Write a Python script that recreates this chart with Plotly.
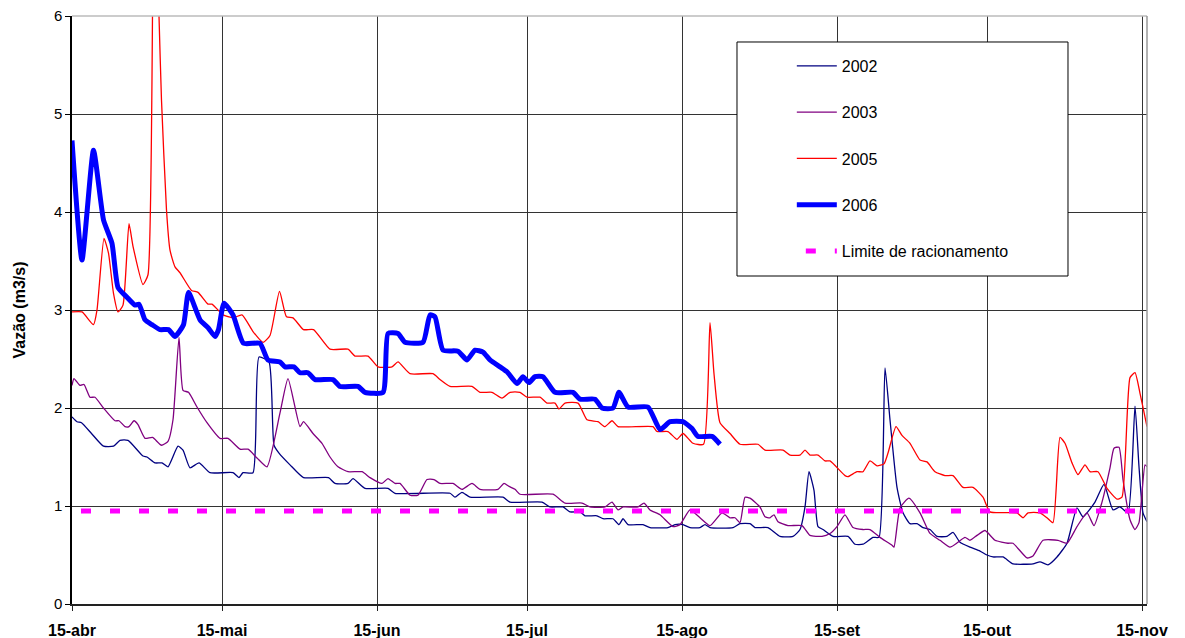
import plotly.graph_objects as go

# x positions are days counted from 15-abr
tick_days = [0, 30, 61, 91, 122, 153, 183, 214]
tick_labels = ["15-abr", "15-mai", "15-jun", "15-jul", "15-ago", "15-set", "15-out", "15-nov"]

days_2002 = [0, 1, 1.9, 3.9, 6.3, 8.3, 9.6, 11.2, 14.2, 15, 16.6, 18, 19.2, 21.2, 22.2, 23.6, 25.4, 27.6,
             32.2, 33.4, 34.2, 36.2, 37.4, 39.4, 40.4, 41.4, 43.6, 46.3, 51.3, 52.6, 55.2, 56.2, 58.6, 63.2,
             64.6, 75.6, 76.6, 78, 79.6, 86.2, 87.6, 94, 95.6, 98.2, 99.6, 101.6, 102.6, 105, 106.2, 108.2,
             109.4, 110.2, 111.2, 114.2, 115.6, 119.2, 120.6, 122.2, 123.6, 125.6, 126.6, 127.6, 132.2,
             133.6, 135.6, 136.6, 139.2, 141.6, 144.2, 145.6, 146.6, 147.4, 148.4, 149.2, 150.2, 152.2,
             155.2, 156.6, 158.2, 160.2, 161.4, 162.6, 163.6, 165, 166.2, 167.6, 169, 170.2, 171.6, 173,
             175, 176.2, 177.6, 179.6, 181.6, 183, 184.2, 186.2, 188.2, 192.2, 193.6, 195.2, 197, 199,
             201, 202.2, 204.6, 206.4, 208.2, 209.6, 211.2, 212.6, 213.4, 214.2, 215]
flow_2002 = [1.91, 1.86, 1.85, 1.74, 1.61, 1.61, 1.67, 1.67, 1.51, 1.50, 1.44, 1.44, 1.40, 1.61, 1.57, 1.39,
             1.44, 1.34, 1.34, 1.29, 1.34, 1.34, 2.52, 2.47, 1.62, 1.54, 1.42, 1.29, 1.29, 1.23, 1.23, 1.28,
             1.18, 1.18, 1.13, 1.13, 1.09, 1.14, 1.09, 1.09, 1.04, 1.04, 0.99, 0.99, 0.94, 0.94, 0.90, 0.90,
             0.87, 0.87, 0.81, 0.87, 0.81, 0.81, 0.78, 0.78, 0.81, 0.81, 0.78, 0.78, 0.81, 0.78, 0.78,
             0.82, 0.82, 0.78, 0.78, 0.69, 0.69, 0.76, 0.99, 1.35, 1.16, 0.79, 0.76, 0.69,
             0.69, 0.61, 0.61, 0.68, 0.68, 2.41, 1.88, 1.19, 0.93, 0.82, 0.82, 0.78, 0.76, 0.69,
             0.69, 0.73, 0.63, 0.58, 0.54, 0.50, 0.48, 0.48, 0.41, 0.41, 0.43, 0.40, 0.48, 0.62,
             0.98, 0.89, 1.04, 1.22, 0.96, 0.99, 0.93, 2.02, 1.40, 0.93, 0.84]

days_2003 = [0, 0.4, 1.6, 2.4, 3.6, 4.6, 6.3, 8.6, 9.4, 10.6, 11.4, 12.4, 13.2, 14.6, 16.1, 17.9, 19.2, 20.2,
             21.4, 22.2, 23.3, 25, 27, 29.6, 31.2, 33.6, 35.2, 37, 39, 41.6, 43.2, 45.6, 46.3, 48.2, 50,
             51.6, 53.2, 55.2, 58, 59.6, 62, 63.2, 64.6, 65.6, 67.6, 69.2, 71, 72.4, 73.6, 76.2, 78, 80,
             81.6, 85.2, 86.4, 87.4, 88.6, 89.6, 96.2, 98.6, 102, 103.6, 106.6, 108, 109.2, 110.2, 113.2,
             114.4, 115.6, 117.6, 120.2, 121.6, 123.6, 125.6, 127.6, 130, 131.6, 132.6, 133.6, 134.6,
             135.6, 137.6, 138.6, 139.6, 140.4, 141.2, 143.2, 146, 147.6, 150, 151.6, 153, 154.6, 156.2,
             158.2, 159.6, 161.6, 164, 164.4, 165.6, 167.4, 169.6, 171.6, 173.6, 175.6, 177.2, 178.6,
             179.6, 181, 182.6, 184.6, 187.2, 188.2, 191, 192.2, 194.2, 197.2, 199, 201, 203, 204.4, 206,
             207.6, 208.4, 209.4, 210.2, 211.6, 212.6, 213.4, 214.6, 215]
flow_2003 = [2.23, 2.30, 2.23, 2.24, 2.11, 2.11, 2.00, 1.87, 1.87, 1.81, 1.81, 1.87, 1.83, 1.69, 1.70, 1.62,
             1.66, 1.88, 2.72, 2.18, 2.16, 2.01, 1.85, 1.69, 1.69, 1.58, 1.58, 1.49, 1.40, 1.95, 2.30, 1.81,
             1.86, 1.74, 1.64, 1.50, 1.40, 1.35, 1.35, 1.29, 1.23, 1.28, 1.23, 1.23, 1.11, 1.11, 1.27, 1.27,
             1.23, 1.23, 1.17, 1.23, 1.17, 1.17, 1.23, 1.20, 1.17, 1.12, 1.12, 1.03, 1.03, 0.99, 0.99, 1.04,
             0.96, 0.99, 0.99, 1.03, 0.96, 0.91, 0.79, 0.81, 0.96, 0.88, 0.80, 0.93, 0.88, 0.88, 0.83, 1.09,
             1.08, 0.99, 0.89, 0.88, 0.91, 0.84, 0.80, 0.80, 0.70, 0.69, 0.72, 0.79, 0.91, 0.78,
             0.76, 0.76, 0.68, 0.60, 0.58, 0.98, 1.08, 0.93, 0.72, 0.65, 0.58, 0.63, 0.68,
             0.65, 0.70, 0.75, 0.65, 0.62, 0.62, 0.47, 0.49, 0.65, 0.65, 0.62, 0.79, 0.93, 0.80, 1.04,
             1.39, 1.59, 1.60, 1.27, 0.86, 0.76, 0.83, 1.42, 1.40]

days_2005 = [0, 2, 4.3, 5, 6.4, 7.3, 8.3, 9.2, 10.2, 11.4, 12.2, 14.2, 15.2, 16.4, 17.4, 17.9, 18.9, 19.6,
             20.6, 21.6, 23.9, 25.2, 27.2, 28, 30.2, 32.2, 34, 36.2, 38.2, 39.6, 41.5, 42.9, 44.2, 46.3,
             48.3, 51.6, 55.2, 56.6, 59.2, 61.2, 64, 65.2, 67.6, 72.2, 73.6, 75.6, 80, 81.6, 84, 86, 87.6,
             89.6, 91, 93.6, 95, 96.6, 97.4, 98.6, 101.2, 103, 105.2, 106.6, 108, 109.2, 116.2, 117, 119.2,
             121, 122.2, 124.2, 126.3, 127.6, 128.4, 129.6, 131.6, 133.6, 137.2, 138.6, 142.2, 143.6,
             145.6, 146.6, 147.6, 149.2, 150.6, 151.6, 154.6, 155.2, 157, 158.2, 159.6, 161, 162.4, 163.2,
             164.8, 166, 167.6, 169.6, 171, 172.6, 174.6, 176.2, 178.2, 180.2, 182.2, 183.6, 189, 190.2,
             191.2, 193.6, 195, 196.2, 197.6, 198.6, 200, 201.2, 202.6, 203.6, 205.2, 207, 209, 210,
             211.6, 212.6, 213.6, 215]
flow_2005 = [2.98, 2.98, 2.85, 3.00, 3.73, 3.58, 3.17, 2.98, 3.05, 3.88, 3.65, 3.26, 3.36, 8.0, 6.0, 5.14,
             4.02, 3.61, 3.44, 3.38, 3.20, 3.18, 3.06, 3.06, 2.95, 2.92, 2.95, 2.78, 2.67, 2.74, 3.19, 2.93,
             2.92, 2.80, 2.80, 2.60, 2.60, 2.53, 2.53, 2.42, 2.42, 2.47, 2.35, 2.35, 2.29, 2.22, 2.22, 2.16,
             2.16, 2.10, 2.16, 2.16, 2.11, 2.11, 2.05, 2.05, 1.99, 2.05, 2.05, 1.88, 1.86, 1.81, 1.87, 1.81,
             1.81, 1.76, 1.76, 1.68, 1.74, 1.64, 1.63, 2.87, 2.35, 1.85, 1.74, 1.63, 1.63, 1.57, 1.57, 1.52,
             1.52, 1.57, 1.52, 1.52, 1.46, 1.46, 1.31, 1.30, 1.35, 1.35, 1.46, 1.41, 1.43, 1.54, 1.81, 1.72,
             1.64, 1.47, 1.45, 1.35, 1.31, 1.31, 1.19, 1.19, 1.09, 0.94, 0.93, 0.88, 0.93, 0.93, 0.88, 0.83,
             1.70, 1.64, 1.44, 1.32, 1.42, 1.35, 1.35, 1.18, 1.07, 1.09, 2.31, 2.36, 2.15, 1.81]

days_2006 = [0, 2, 4.3, 6.3, 8, 9.2, 11, 12.6, 13.4, 14.6, 16, 17.6, 19.3, 20.6, 22.3, 23.3, 25.6, 27.2,
             28.6, 29.3, 30.4, 32.2, 34.3, 37.6, 39.2, 41.6, 42.6, 44.4, 45.6, 47.2, 48.6, 52.2, 53.6, 57.2,
             58.6, 62.2, 63.2, 65.2, 66.6, 70.2, 71.6, 72.6, 74.2, 77.2, 79, 80.6, 82.2, 83.6, 85.6, 87, 89,
             90.2, 91.4, 92.6, 94.2, 96.6, 100.2, 101.6, 104.6, 106, 108.2, 109.4, 111.2, 115.2, 117.6,
             119.6, 122.2, 124, 125.2, 128, 129.6]
flow_2006 = [4.73, 3.51, 4.63, 3.92, 3.68, 3.23, 3.13, 3.05, 3.06, 2.90, 2.85, 2.80, 2.80, 2.73, 2.85, 3.18,
             2.90, 2.82, 2.73, 2.80, 3.07, 2.95, 2.66, 2.66, 2.49, 2.47, 2.42, 2.42, 2.36, 2.36, 2.29, 2.29,
             2.22, 2.22, 2.16, 2.16, 2.76, 2.76, 2.67, 2.67, 2.95, 2.93, 2.59, 2.58, 2.49, 2.59, 2.57, 2.49,
             2.42, 2.37, 2.25, 2.32, 2.26, 2.32, 2.32, 2.16, 2.16, 2.09, 2.09, 2.00, 2.00, 2.16, 2.01, 2.01,
             1.78, 1.86, 1.86, 1.79, 1.71, 1.71, 1.63]

limit_days = [0, 215]
limit_flow = [0.95, 0.95]

FONT = "Arial, Liberation Sans, sans-serif"

fig = go.Figure()
series = [
    ("2002", days_2002, flow_2002, "#000080", 1.3),
    ("2003", days_2003, flow_2003, "#800080", 1.3),
    ("2005", days_2005, flow_2005, "#FF0000", 1.3),
    ("2006", days_2006, flow_2006, "#0000FF", 5),
]
for name, xs, ys, col, w in series:
    fig.add_trace(go.Scatter(x=xs, y=ys, mode="lines", name=name, legendgroup=name,
                             line=dict(color=col, width=w, shape="spline", smoothing=0.5)))
fig.add_trace(go.Scatter(x=limit_days, y=limit_flow, mode="lines", name="Limite de racionamento",
                         legendgroup="lim",
                         line=dict(color="#FF00FF", width=5, dash="0px,9px,10px,10px")))

fig.update_layout(
    width=1185, height=638,
    margin=dict(l=72, r=38, t=16, b=34, autoexpand=False),
    paper_bgcolor="white", plot_bgcolor="white",
    font=dict(family=FONT, size=15, color="black"),
    showlegend=True,
    legend=dict(x=0.6696, y=0.944, xanchor="left", yanchor="top",
                bgcolor="rgba(0,0,0,0)", borderwidth=0,
                font=dict(family=FONT, size=16, color="black"),
                tracegroupgap=22.5, itemwidth=40),
    xaxis=dict(range=[0, 215], tickmode="array", tickvals=tick_days, ticktext=tick_labels,
               tickfont=dict(family=FONT, size=16, color="black", weight="bold"),
               showgrid=True, gridcolor="#333333", gridwidth=1, automargin=False,
               showline=True, linecolor="#222222", linewidth=1.5, ticklabelstandoff=6,
               ticks="outside", ticklen=5, tickcolor="#222222", zeroline=False),
    yaxis=dict(range=[0, 6], tickvals=[0, 1, 2, 3, 4, 5, 6],
               tickfont=dict(family=FONT, size=15, color="black"),
               title=dict(text="Vazão (m3/s)", font=dict(family=FONT, size=16, color="black", weight="bold"),
                          standoff=24),
               showgrid=True, gridcolor="#333333", gridwidth=1, automargin=False,
               showline=True, linecolor="#000000", linewidth=1.5,
               ticks="outside", ticklen=5, tickcolor="#000000", zeroline=False),
    shapes=[
        dict(type="rect", xref="paper", yref="paper", x0=0.6186, x1=0.9265, y0=0.5578, y1=0.9558,
             line=dict(color="black", width=1), fillcolor="white", layer="above"),
        dict(type="line", xref="paper", yref="paper", x0=0, x1=1, y0=1, y1=1,
             line=dict(color="#BBBBBB", width=1.5), layer="above"),
        dict(type="line", xref="paper", yref="paper", x0=1, x1=1, y0=0, y1=1,
             line=dict(color="#999999", width=1.5), layer="above"),
    ],
)

fig.write_html("out.html", config={"displayModeBar": False},
               post_script="document.body.style.margin='0';")
